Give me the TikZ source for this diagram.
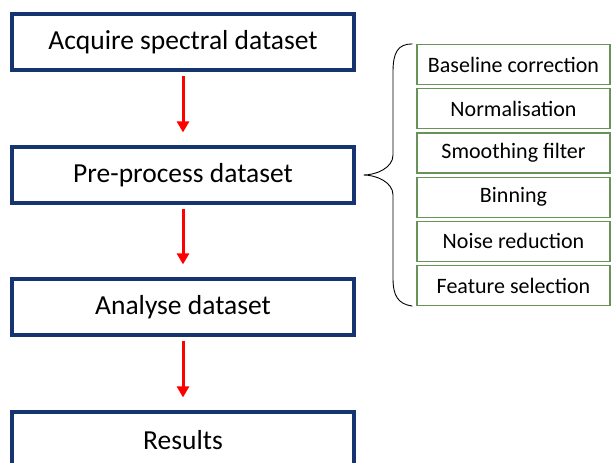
\documentclass[tikz,border=0pt]{standalone}
\usepackage{fontspec}
\setmainfont{Carlito}
\usetikzlibrary{arrows.meta, positioning}

\definecolor{boxblue}{RGB}{22,52,112}
\definecolor{boxgreen}{RGB}{104,146,88}

\begin{document}
\begin{tikzpicture}[x=1pt, y=-1pt, node distance=3pt]
\tikzstyle{mainbox} = [rectangle, draw=boxblue, line width=3.2pt, minimum width=342pt, minimum height=56pt, text centered, font=\fontsize{27.5}{32}\selectfont]
\tikzstyle{subbox} = [rectangle, draw=boxgreen, line width=1.2pt, minimum width=193pt, minimum height=40pt, text centered, font=\fontsize{22}{26}\selectfont]
\tikzstyle{arrow} = [line width=3pt, red, -{Triangle[length=11pt,width=12pt]}, shorten <=4pt, shorten >=13pt]

\useasboundingbox[fill=white] (0,0) rectangle (611,463);

\node[mainbox] (acquire) at (183,42) {Acquire spectral dataset};
\node[mainbox] (preprocess) at (183,175) {Pre-process dataset};
\node[mainbox] (analyse) at (183,307) {Analyse dataset};
\node[mainbox] (results) at (183,440) {Results};

\draw[arrow] (acquire) -- (preprocess);
\draw[arrow] (preprocess) -- (analyse);
\draw[arrow] (analyse) -- (results);

\node[subbox] (baseline) at (513.5,64.5) {Baseline correction};
\node[subbox, below=of baseline] (normal) {Normalisation};
\node[subbox, below=of normal] (smooth) {Smoothing filter};
\node[subbox, below=of smooth] (binning) {Binning};
\node[subbox, below=of binning] (noise) {Noise reduction};
\node[subbox, below=of noise] (feature) {Feature selection};

% brace from the sub-steps to the pre-process box
\coordinate (bracetop) at ([xshift=-4pt]baseline.north west);
\coordinate (bracebot) at ([xshift=-4pt]feature.south west);
\coordinate (bracetip) at ([xshift=8pt]preprocess.east);
\draw[line width=0.9pt] (bracetop) .. controls (398,44) and (393,52) .. (393,72) -- (393,155)
  .. controls (393,168) and (376,175) .. (bracetip)
  .. controls (376,175) and (393,182) .. (393,195) -- (393,278)
  .. controls (393,296) and (398,304) .. (bracebot);
\end{tikzpicture}
\end{document}
